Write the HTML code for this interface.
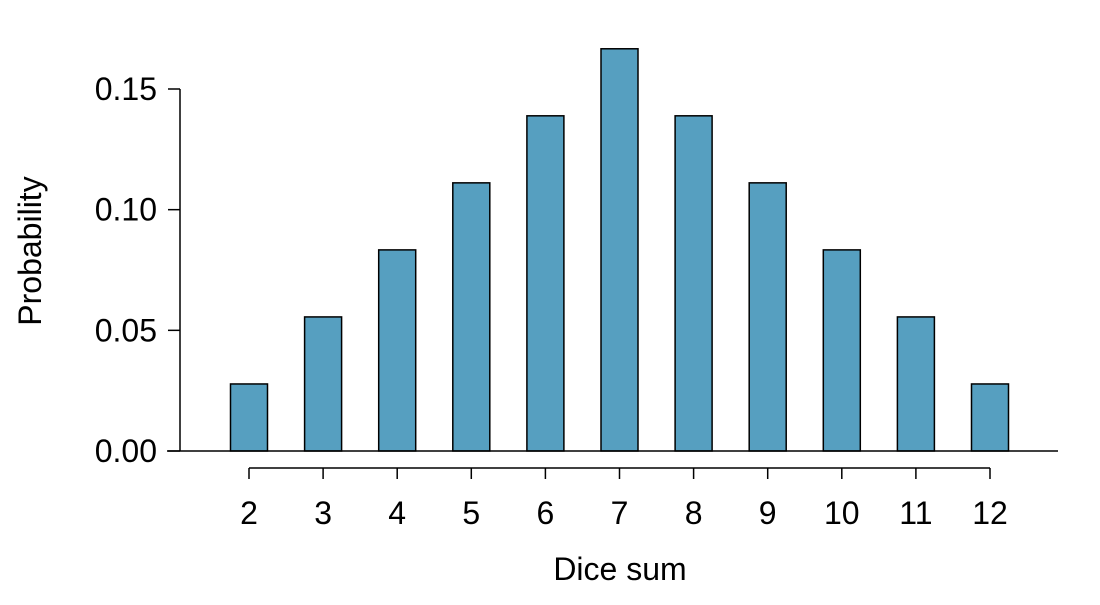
<!DOCTYPE html>
<html><head><meta charset="utf-8"><style>
body{margin:0;background:#fff}
text{font-family:"Liberation Sans",Arial,sans-serif;fill:#000}
</style></head><body>
<svg width="1100" height="600">
<g id="g"></g>
</svg>
<script>
const categories=[2,3,4,5,6,7,8,9,10,11,12];
const values=[1/36,2/36,3/36,4/36,5/36,6/36,5/36,4/36,3/36,2/36,1/36];
const yTicks=[0,0.05,0.10,0.15];
const yTickLabels=["0.00","0.05","0.10","0.15"];
const NS="http://www.w3.org/2000/svg";
const g=document.getElementById('g');
function xs(v){return 249+(v-2)*74.1;}
function ys(v){return 451-v*(362/0.15);}
function mk(t,a,txt){const e=document.createElementNS(NS,t);for(const k in a)e.setAttribute(k,a[k]);if(txt!==undefined)e.textContent=txt;g.appendChild(e);return e;}
categories.forEach((c,i)=>{
  const b=mk('rect',{x:xs(c)-18.5,y:ys(values[i]),width:37,height:ys(0)-ys(values[i]),fill:'#569FC0',stroke:'#000','stroke-width':1.5});
  
  
  const t=mk('line',{x1:xs(c),x2:xs(c),y1:468,y2:479,stroke:'#000','stroke-width':1.5});
  
  
  const l=mk('text',{x:xs(c),y:524,'text-anchor':'middle','font-size':32},c);
  
  
});
const base=mk('line',{x1:167,x2:1058,y1:451,y2:451,stroke:'#000','stroke-width':1.5});


const xa=mk('line',{x1:xs(2),x2:xs(12),y1:468,y2:468,stroke:'#000','stroke-width':1.5});


const ya=mk('line',{x1:180,x2:180,y1:ys(0),y2:ys(0.15),stroke:'#000','stroke-width':1.5});


yTicks.forEach((v,i)=>{
  const t=mk('line',{x1:168,x2:180,y1:ys(v),y2:ys(v),stroke:'#000','stroke-width':1.5});
  
  
  const l=mk('text',{x:157,y:ys(v)+11,'text-anchor':'end','font-size':32},yTickLabels[i]);
  
  
});
const xt=mk('text',{x:620,y:580,'text-anchor':'middle','font-size':32},'Dice sum');


const yt=mk('text',{x:0,y:0,'text-anchor':'middle','font-size':32,transform:'translate(41,251) rotate(-90)'},'Probability');


</script>
</body></html>
